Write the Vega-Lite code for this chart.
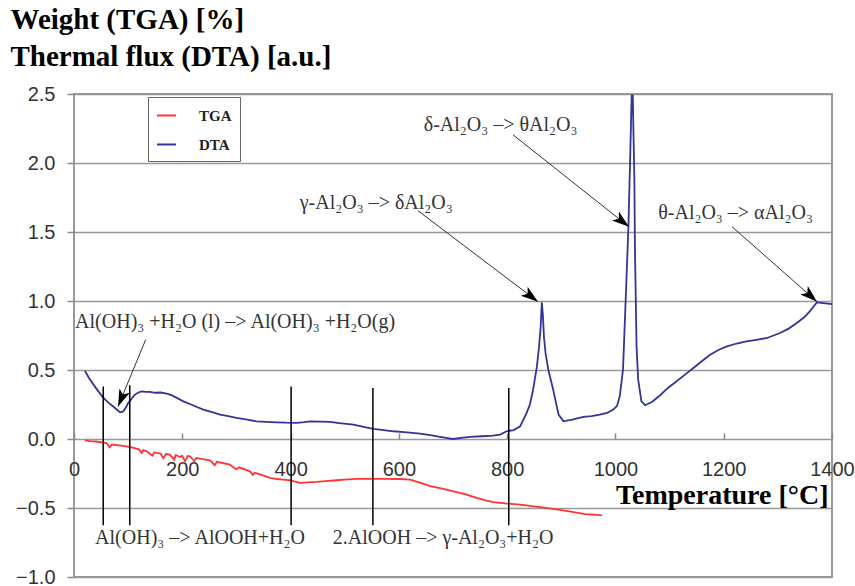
{
  "$schema": "https://vega.github.io/schema/vega-lite/v6.json",
  "width": 758,
  "height": 483,
  "autosize": {"type": "none"},
  "padding": {"left": 74, "top": 94, "right": 23, "bottom": 9},
  "background": "white",
  "config": {"view": {"stroke": "#999", "strokeWidth": 2}},
  "datasets": {
    "curves": [
      {"series":"DTA","temp":20,"value":0.495},{"series":"DTA","temp":28,"value":0.44},{"series":"DTA","temp":36,"value":0.394},{"series":"DTA","temp":45,"value":0.345},{"series":"DTA","temp":54,"value":0.30},{"series":"DTA","temp":63,"value":0.265},{"series":"DTA","temp":72,"value":0.237},{"series":"DTA","temp":80,"value":0.21},{"series":"DTA","temp":85,"value":0.193},{"series":"DTA","temp":91,"value":0.20},{"series":"DTA","temp":96,"value":0.23},{"series":"DTA","temp":100,"value":0.261},{"series":"DTA","temp":106,"value":0.29},{"series":"DTA","temp":112,"value":0.32},{"series":"DTA","temp":118,"value":0.335},{"series":"DTA","temp":125,"value":0.345},{"series":"DTA","temp":133,"value":0.342},{"series":"DTA","temp":140,"value":0.341},{"series":"DTA","temp":150,"value":0.335},{"series":"DTA","temp":160,"value":0.337},{"series":"DTA","temp":171,"value":0.329},{"series":"DTA","temp":180,"value":0.318},{"series":"DTA","temp":190,"value":0.298},{"series":"DTA","temp":202,"value":0.273},{"series":"DTA","temp":215,"value":0.252},{"series":"DTA","temp":227,"value":0.232},{"series":"DTA","temp":239,"value":0.213},{"series":"DTA","temp":255,"value":0.195},{"series":"DTA","temp":270,"value":0.177},{"series":"DTA","temp":285,"value":0.165},{"series":"DTA","temp":300,"value":0.153},{"series":"DTA","temp":320,"value":0.14},{"series":"DTA","temp":337,"value":0.128},{"series":"DTA","temp":355,"value":0.124},{"series":"DTA","temp":374,"value":0.121},{"series":"DTA","temp":392,"value":0.118},{"series":"DTA","temp":411,"value":0.117},{"series":"DTA","temp":425,"value":0.122},{"series":"DTA","temp":436,"value":0.128},{"series":"DTA","temp":455,"value":0.126},{"series":"DTA","temp":473,"value":0.124},{"series":"DTA","temp":490,"value":0.115},{"series":"DTA","temp":516,"value":0.104},{"series":"DTA","temp":535,"value":0.088},{"series":"DTA","temp":553,"value":0.073},{"series":"DTA","temp":572,"value":0.065},{"series":"DTA","temp":590,"value":0.056},{"series":"DTA","temp":615,"value":0.048},{"series":"DTA","temp":639,"value":0.039},{"series":"DTA","temp":658,"value":0.028},{"series":"DTA","temp":676,"value":0.015},{"series":"DTA","temp":690,"value":0.006},{"series":"DTA","temp":700,"value":0.0},{"series":"DTA","temp":715,"value":0.008},{"series":"DTA","temp":731,"value":0.015},{"series":"DTA","temp":752,"value":0.02},{"series":"DTA","temp":774,"value":0.025},{"series":"DTA","temp":787,"value":0.032},{"series":"DTA","temp":799,"value":0.056},{"series":"DTA","temp":812,"value":0.065},{"series":"DTA","temp":824,"value":0.092},{"series":"DTA","temp":836,"value":0.189},{"series":"DTA","temp":842,"value":0.25},{"series":"DTA","temp":848,"value":0.358},{"series":"DTA","temp":855,"value":0.526},{"series":"DTA","temp":859,"value":0.671},{"series":"DTA","temp":862,"value":0.816},{"series":"DTA","temp":864,"value":0.99},{"series":"DTA","temp":866,"value":0.9},{"series":"DTA","temp":868,"value":0.74},{"series":"DTA","temp":871,"value":0.62},{"series":"DTA","temp":876,"value":0.503},{"series":"DTA","temp":885,"value":0.358},{"series":"DTA","temp":895,"value":0.177},{"series":"DTA","temp":904,"value":0.128},{"series":"DTA","temp":920,"value":0.14},{"series":"DTA","temp":941,"value":0.16},{"series":"DTA","temp":956,"value":0.165},{"series":"DTA","temp":971,"value":0.177},{"series":"DTA","temp":985,"value":0.19},{"series":"DTA","temp":996,"value":0.213},{"series":"DTA","temp":1003,"value":0.24},{"series":"DTA","temp":1008,"value":0.309},{"series":"DTA","temp":1014,"value":0.503},{"series":"DTA","temp":1018,"value":0.913},{"series":"DTA","temp":1024,"value":1.54},{"series":"DTA","temp":1027,"value":2.0},{"series":"DTA","temp":1030,"value":2.49},{"series":"DTA","temp":1032,"value":2.49},{"series":"DTA","temp":1035,"value":1.878},{"series":"DTA","temp":1036,"value":1.395},{"series":"DTA","temp":1039,"value":0.671},{"series":"DTA","temp":1042,"value":0.43},{"series":"DTA","temp":1048,"value":0.273},{"series":"DTA","temp":1055,"value":0.245},{"series":"DTA","temp":1068,"value":0.27},{"series":"DTA","temp":1082,"value":0.315},{"series":"DTA","temp":1097,"value":0.37},{"series":"DTA","temp":1113,"value":0.418},{"series":"DTA","temp":1128,"value":0.465},{"series":"DTA","temp":1144,"value":0.515},{"series":"DTA","temp":1160,"value":0.565},{"series":"DTA","temp":1175,"value":0.611},{"series":"DTA","temp":1190,"value":0.645},{"series":"DTA","temp":1206,"value":0.671},{"series":"DTA","temp":1224,"value":0.692},{"series":"DTA","temp":1242,"value":0.707},{"series":"DTA","temp":1260,"value":0.718},{"series":"DTA","temp":1280,"value":0.732},{"series":"DTA","temp":1304,"value":0.768},{"series":"DTA","temp":1320,"value":0.8},{"series":"DTA","temp":1335,"value":0.84},{"series":"DTA","temp":1348,"value":0.88},{"series":"DTA","temp":1359,"value":0.925},{"series":"DTA","temp":1366,"value":0.96},{"series":"DTA","temp":1372,"value":0.99},{"series":"DTA","temp":1384,"value":0.985},{"series":"DTA","temp":1400,"value":0.978},
      {"series":"TGA","temp":20,"value":-0.01},{"series":"TGA","temp":30,"value":-0.015},{"series":"TGA","temp":40,"value":-0.018},{"series":"TGA","temp":51,"value":-0.024},{"series":"TGA","temp":60,"value":-0.03},{"series":"TGA","temp":66,"value":-0.06},{"series":"TGA","temp":70,"value":-0.04},{"series":"TGA","temp":80,"value":-0.045},{"series":"TGA","temp":97,"value":-0.053},{"series":"TGA","temp":110,"value":-0.065},{"series":"TGA","temp":120,"value":-0.075},{"series":"TGA","temp":125,"value":-0.1},{"series":"TGA","temp":128,"value":-0.08},{"series":"TGA","temp":134,"value":-0.089},{"series":"TGA","temp":145,"value":-0.12},{"series":"TGA","temp":148,"value":-0.097},{"series":"TGA","temp":160,"value":-0.105},{"series":"TGA","temp":165,"value":-0.14},{"series":"TGA","temp":170,"value":-0.108},{"series":"TGA","temp":177,"value":-0.113},{"series":"TGA","temp":185,"value":-0.15},{"series":"TGA","temp":188,"value":-0.116},{"series":"TGA","temp":195,"value":-0.13},{"series":"TGA","temp":200,"value":-0.122},{"series":"TGA","temp":205,"value":-0.16},{"series":"TGA","temp":210,"value":-0.123},{"series":"TGA","temp":214,"value":-0.125},{"series":"TGA","temp":222,"value":-0.16},{"series":"TGA","temp":226,"value":-0.137},{"series":"TGA","temp":240,"value":-0.148},{"series":"TGA","temp":251,"value":-0.154},{"series":"TGA","temp":260,"value":-0.19},{"series":"TGA","temp":264,"value":-0.165},{"series":"TGA","temp":288,"value":-0.186},{"series":"TGA","temp":300,"value":-0.22},{"series":"TGA","temp":305,"value":-0.205},{"series":"TGA","temp":325,"value":-0.234},{"series":"TGA","temp":330,"value":-0.26},{"series":"TGA","temp":334,"value":-0.245},{"series":"TGA","temp":345,"value":-0.258},{"series":"TGA","temp":362,"value":-0.282},{"series":"TGA","temp":375,"value":-0.29},{"series":"TGA","temp":387,"value":-0.294},{"series":"TGA","temp":400,"value":-0.3},{"series":"TGA","temp":417,"value":-0.318},{"series":"TGA","temp":432,"value":-0.315},{"series":"TGA","temp":448,"value":-0.311},{"series":"TGA","temp":465,"value":-0.305},{"series":"TGA","temp":485,"value":-0.299},{"series":"TGA","temp":500,"value":-0.295},{"series":"TGA","temp":522,"value":-0.289},{"series":"TGA","temp":550,"value":-0.288},{"series":"TGA","temp":578,"value":-0.289},{"series":"TGA","temp":600,"value":-0.29},{"series":"TGA","temp":621,"value":-0.294},{"series":"TGA","temp":640,"value":-0.318},{"series":"TGA","temp":658,"value":-0.342},{"series":"TGA","temp":680,"value":-0.36},{"series":"TGA","temp":701,"value":-0.379},{"series":"TGA","temp":722,"value":-0.4},{"series":"TGA","temp":744,"value":-0.427},{"series":"TGA","temp":760,"value":-0.445},{"series":"TGA","temp":775,"value":-0.458},{"series":"TGA","temp":800,"value":-0.468},{"series":"TGA","temp":824,"value":-0.475},{"series":"TGA","temp":850,"value":-0.488},{"series":"TGA","temp":885,"value":-0.506},{"series":"TGA","temp":915,"value":-0.525},{"series":"TGA","temp":944,"value":-0.545},{"series":"TGA","temp":960,"value":-0.548},{"series":"TGA","temp":975,"value":-0.553}
    ],
    "vlines": [
      {"temp":54,"top":0.38,"bottom":-0.625},
      {"temp":103,"top":0.39,"bottom":-0.625},
      {"temp":401,"top":0.38,"bottom":-0.625},
      {"temp":552,"top":0.37,"bottom":-0.625},
      {"temp":803,"top":0.37,"bottom":-0.625}
    ],
    "arrows": [
      {"x0":132.4,"y0":0.72,"x1":81.3,"y1":0.235,"angle":202.5},
      {"x0":635.4,"y0":1.654,"x1":857,"y1":0.995,"angle":127.2},
      {"x0":810.9,"y0":2.204,"x1":1025.1,"y1":1.538,"angle":128.4},
      {"x0":1215.4,"y0":1.538,"x1":1372.4,"y1":0.995,"angle":131.4}
    ],
    "labels": [
      {"x":2,"y":0.85,"label":"Al(OH)₃ +H₂O (l) –> Al(OH)₃ +H₂O(g)"},
      {"x":417,"y":1.71,"label":"γ-Al₂O₃ –> δAl₂O₃"},
      {"x":646,"y":2.276,"label":"δ-Al₂O₃ –> θAl₂O₃"},
      {"x":1079,"y":1.64,"label":"θ-Al₂O₃ –> αAl₂O₃"},
      {"x":39,"y":-0.714,"label":"Al(OH)₃ –> AlOOH+H₂O"},
      {"x":478,"y":-0.714,"label":"2.AlOOH –> γ-Al₂O₃+H₂O"}
    ]
  },
  "layer": [
    {
      "data": {"name": "curves"},
      "mark": {"type": "line", "strokeWidth": 1.8},
      "encoding": {
        "x": {"field": "temp", "type": "quantitative",
          "scale": {"domain": [0, 1400], "nice": false, "zero": false},
          "axis": {"values": [0,200,400,600,800,1000,1200,1400], "format": "d", "offset": -138, "grid": false, "domain": false,
            "tickSize": -6, "tickColor": "#888", "tickWidth": 1.5, "labelPadding": 26,
            "labelFont": "Liberation Sans", "labelFontSize": 20, "labelColor": "#333", "labelFlush": false,
            "title": "Temperature [°C]", "titleFont": "Liberation Serif", "titleFontSize": 28, "titleFontWeight": "bold",
            "titleColor": "black", "titleAlign": "right", "titleAnchor": "end", "titleX": 754, "titleY": 64, "titleBaseline": "alphabetic"}},
        "y": {"field": "value", "type": "quantitative",
          "scale": {"domain": [-1, 2.5], "nice": false, "zero": false},
          "axis": {"values": [-1,-0.5,0,0.5,1,1.5,2,2.5], "format": ".1f", "grid": true, "gridColor": "#999", "gridWidth": 1.5,
            "domain": false, "tickSize": 7, "tickColor": "#888", "tickWidth": 1.5, "labelPadding": 12,
            "labelFont": "Liberation Sans", "labelFontSize": 20, "labelColor": "#333",
            "title": ["Weight (TGA) [%]", "Thermal flux (DTA) [a.u.]"], "titleAngle": 0, "titleAlign": "left",
            "titleBaseline": "alphabetic", "titleX": -64, "titleY": -66, "titleFont": "Liberation Serif",
            "titleFontSize": 29, "titleFontWeight": "bold", "titleColor": "black", "titleLineHeight": 37}},
        "color": {"field": "series", "type": "nominal",
          "scale": {"domain": ["TGA", "DTA"], "range": ["#ff3333", "#33339a"]},
          "legend": {"orient": "none", "legendX": 74, "legendY": 3, "title": null, "symbolType": "stroke",
            "symbolSize": 361, "symbolStrokeWidth": 2, "labelFont": "Liberation Serif", "labelFontWeight": "bold",
            "labelFontSize": 15, "labelColor": "#222", "labelOffset": 22, "rowPadding": 10, "padding": 8,
            "strokeColor": "#666", "fillColor": "white", "direction": "vertical"}}
      }
    },
    {
      "data": {"name": "vlines"},
      "mark": {"type": "rule", "color": "black", "strokeWidth": 1.5},
      "encoding": {
        "x": {"field": "temp", "type": "quantitative"},
        "y": {"field": "top", "type": "quantitative"},
        "y2": {"field": "bottom"}
      }
    },
    {
      "data": {"name": "arrows"},
      "mark": {"type": "rule", "color": "#333", "strokeWidth": 1},
      "encoding": {
        "x": {"field": "x0", "type": "quantitative"},
        "y": {"field": "y0", "type": "quantitative"},
        "x2": {"field": "x1"},
        "y2": {"field": "y1"}
      }
    },
    {
      "data": {"name": "arrows"},
      "mark": {"type": "point", "shape": "M0,0 L0.65,2 L0,1.5 L-0.65,2 Z", "filled": true, "color": "black", "size": 300, "opacity": 1},
      "encoding": {
        "x": {"field": "x1", "type": "quantitative"},
        "y": {"field": "y1", "type": "quantitative"},
        "angle": {"field": "angle", "type": "quantitative", "scale": null}
      }
    },
    {
      "data": {"name": "labels"},
      "mark": {"type": "text", "align": "left", "baseline": "middle", "font": "Liberation Serif", "fontSize": 20, "color": "#333"},
      "encoding": {
        "x": {"field": "x", "type": "quantitative"},
        "y": {"field": "y", "type": "quantitative"},
        "text": {"field": "label"}
      }
    }
  ]
}
